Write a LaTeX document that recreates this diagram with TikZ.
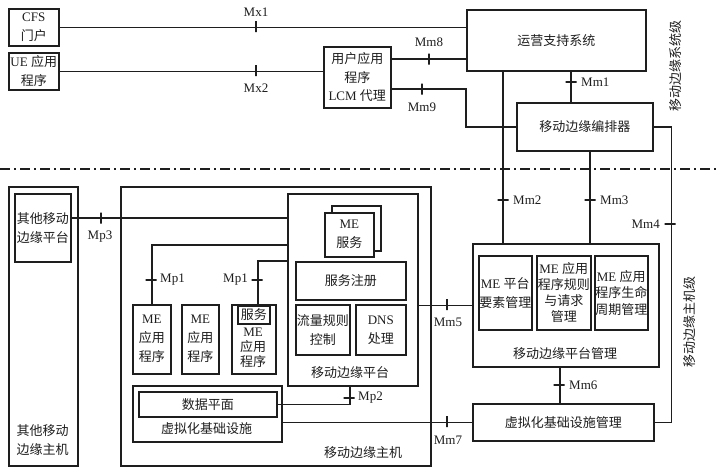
\documentclass[tikz,border=0pt]{standalone}
\usepackage{fontspec}
\setmainfont{Liberation Serif}
\newfontfamily\cjk{Noto Sans CJK SC}
\newcommand{\zh}[1]{{\cjk #1}}
\usetikzlibrary{calc}
\definecolor{ink}{HTML}{1E1E1E}
\begin{document}
\begin{tikzpicture}[x=1pt,y=-1pt,
  every node/.style={font=\fontsize{13}{19}\selectfont, text=ink},
  box/.style={draw=ink, line width=1.5pt, fill=white, inner sep=0pt, align=center, anchor=north west},
  wire/.style={draw=ink, line width=1.5pt},
  vtick/.style={draw=ink, line width=1.5pt, shape=rectangle, minimum width=0pt, minimum height=11pt, inner sep=0pt},
  htick/.style={draw=ink, line width=1.5pt, shape=rectangle, minimum width=11pt, minimum height=0pt, inner sep=0pt},
  lbl/.style={inner sep=0pt, align=center}
]
\fill[white] (0,0) rectangle (720,471);
\useasboundingbox (0,0) rectangle (720,471);

% ---------- system level ----------
\node[box, minimum width=50pt, minimum height=37pt] (cfs) at (8,8) {CFS\\\zh{门户}};
\node[box, minimum width=50pt, minimum height=37pt] (ue) at (8,52) {UE \zh{应用}\\\zh{程序}};
\node[box, minimum width=179pt, minimum height=61pt] (oss) at (466,9) {\zh{运营支持系统}};
\node[box, minimum width=67pt, minimum height=61pt, font=\fontsize{13}{18.5}\selectfont] (lcm) at (323,46) {\zh{用户应用}\\\zh{程序}\\LCM \zh{代理}};
\node[box, minimum width=136pt, minimum height=48pt] (meo) at (516,102) {\zh{移动边缘编排器}};

% ---------- host level ----------
\node[box, minimum width=69pt, minimum height=279pt] (omeh) at (8,186) {};
\node[lbl] (omehl) at (42.5,440) {\zh{其他移动}\\\zh{边缘主机}};
\node[box, minimum width=56pt, minimum height=68pt] (omep) at (14,193) {\zh{其他移动}\\\zh{边缘平台}};

\node[box, minimum width=310pt, minimum height=279pt] (meh) at (120,186) {};
\node[lbl] (mehl) at (363,453) {\zh{移动边缘主机}};
\node[box, minimum width=130pt, minimum height=192pt] (mep) at (287,193) {};
\node[lbl] (mepl) at (350,373) {\zh{移动边缘平台}};
\node[box, minimum width=49pt, minimum height=45pt] (svcb) at (331,205) {};
\node[box, minimum width=49pt, minimum height=44pt] (svc) at (324,212) {ME\\\zh{服务}};
\node[box, minimum width=110pt, minimum height=38pt] (reg) at (295,261) {\zh{服务注册}};
\node[box, minimum width=54pt, minimum height=50pt] (traf) at (295,304) {\zh{流量规则}\\\zh{控制}};
\node[box, minimum width=50pt, minimum height=50pt] (dns) at (355,304) {DNS\\\zh{处理}};

\node[box, minimum width=38pt, minimum height=69pt] (app1) at (132,304) {ME\\\zh{应用}\\\zh{程序}};
\node[box, minimum width=37pt, minimum height=69pt] (app2) at (181,304) {ME\\\zh{应用}\\\zh{程序}};
\node[box, minimum width=44pt, minimum height=69pt] (app3) at (231,304) {};
\node[box, minimum width=32pt, minimum height=18pt] (app3s) at (237,305) {\zh{服务}};
\node[lbl, font=\fontsize{13}{15}\selectfont] (app3l) at (253,348) {ME\\\zh{应用}\\\zh{程序}};

\node[box, minimum width=149pt, minimum height=56pt] (nfvi) at (132,385) {};
\node[lbl] (nfvil) at (206.5,429) {\zh{虚拟化基础设施}};
\node[box, minimum width=138pt, minimum height=25pt] (dp) at (138,391) {\zh{数据平面}};

\node[box, minimum width=186pt, minimum height=123pt] (mepm) at (472,243) {};
\node[lbl] (mepml) at (565,354) {\zh{移动边缘平台管理}};
\node[box, minimum width=53pt, minimum height=74pt] (s1) at (478,255) {ME \zh{平台}\\\zh{要素管理}};
\node[box, minimum width=54pt, minimum height=74pt, font=\fontsize{13}{16}\selectfont] (s2) at (536,255) {ME \zh{应用}\\\zh{程序规则}\\\zh{与请求}\\\zh{管理}};
\node[box, minimum width=53pt, minimum height=74pt, font=\fontsize{13}{16.5}\selectfont] (s3) at (594,255) {ME \zh{应用}\\\zh{程序生命}\\\zh{周期管理}};
\node[box, minimum width=181pt, minimum height=37pt] (vim) at (472,403) {\zh{虚拟化基础设施管理}};

% ---------- connectors ----------
\draw[wire] (cfs.east) -- (cfs.east -| oss.west);
\draw[wire] (ue.east) -- (ue.east -| lcm.west);
\draw[wire] ($(lcm.north east)+(0,13)$) coordinate (m8s) -- (m8s -| oss.west);
\draw[wire] ($(lcm.north east)+(0,43)$) coordinate (m9s) -- (m9s -| oss.south west) -- (oss.south west |- meo.west) -- (meo.west);
\draw[wire] ($(oss.south west)+(37,0)$) coordinate (m2t) -- (m2t |- mepm.north);
\draw[wire] ($(oss.south west)+(105,0)$) coordinate (m1t) -- (m1t |- meo.north);
\draw[wire] ($(meo.south west)+(74,0)$) coordinate (m3t) -- (m3t |- mepm.north);
\draw[wire] (meo.east) -- ++(18,0) |- (vim.east);

\draw[wire] ($(omep.north east)+(0,25)$) coordinate (p3s) -- (p3s -| mep.west);
\draw[wire] ($(mep.north west)+(0,52)$) -| (app1.north);
\draw[wire] ($(mep.north west)+(0,68)$) -| ($(app3.north)+(4,0)$);
\draw[wire] (dp.east) -| ($(mep.south)+(-3,0)$);
\draw[wire] (vim.west) -- (vim.west -| nfvi.east);
\draw[wire] (mepm.west -| mep.east) -- (mepm.west);
\draw[wire] ($(mepm.south)+(-6,0)$) coordinate (m6t) -- (m6t |- vim.north);

% ---------- interface ticks and labels ----------
\node[vtick] (tx1) at (256,26.5) {};   \node (lx1) at (256,12) {Mx1};
\node[vtick] (tx2) at (256,70.5) {};   \node (lx2) at (256,88) {Mx2};
\node[vtick] (tm8) at (429,59) {};     \node (lm8) at (429,42) {Mm8};
\node[vtick] (tm9) at (422,89) {};     \node (lm9) at (422,107) {Mm9};
\node[htick] (tm1) at (571,82) {};     \node[anchor=west, inner sep=0pt] (lm1) at (581,82) {Mm1};
\node[htick] (tm2) at (503,200) {};    \node[anchor=west, inner sep=0pt] (lm2) at (513,200) {Mm2};
\node[htick] (tm3) at (590,200) {};    \node[anchor=west, inner sep=0pt] (lm3) at (600,200) {Mm3};
\node[htick] (tm4) at (670,224) {};    \node[anchor=east, inner sep=0pt] (lm4) at (660,224) {Mm4};
\node[vtick] (tm5) at (447,304.5) {};  \node (lm5) at (448,322) {Mm5};
\node[htick] (tm6) at (559,385) {};    \node[anchor=west, inner sep=0pt] (lm6) at (569,385) {Mm6};
\node[vtick] (tm7) at (447,421.5) {};  \node (lm7) at (448,440) {Mm7};
\node[vtick] (tp3) at (101,218) {};    \node (lp3) at (100,237) {Mp3};
\node[htick] (tp1a) at (151,280) {};   \node[anchor=west, inner sep=0pt] (lp1a) at (160,280) {Mp1};
\node[htick] (tp1b) at (257,280) {};   \node[anchor=east, inner sep=0pt] (lp1b) at (248,280) {Mp1};
\node[htick] (tp2) at (349,398) {};    \node[anchor=west, inner sep=0pt] (lp2) at (358,398) {Mp2};

% ---------- level separator ----------
\draw[ink, line width=1.3pt, dash pattern=on 10pt off 4pt on 2pt off 4pt] (0,169) -- (720,169);
\node[rotate=90] (sysl) at (676,66) {\zh{移动边缘系统级}};
\node[rotate=90] (hostl) at (690,322) {\zh{移动边缘主机级}};
\end{tikzpicture}
\end{document}
